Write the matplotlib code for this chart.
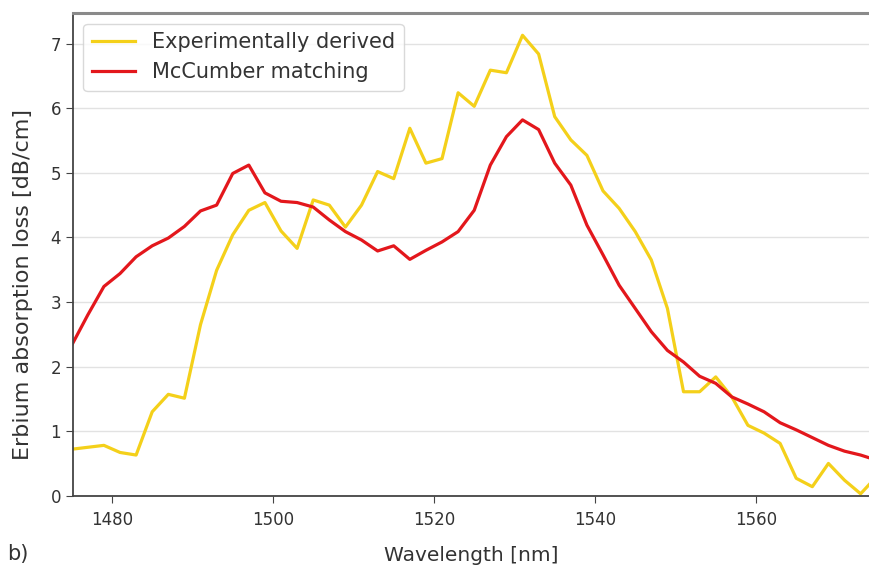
import matplotlib
matplotlib.use("Agg")
import matplotlib.pyplot as plt
import numpy as np

# wavelength grid (nm), sampled every 2 nm
wavelength = np.arange(1475, 1577, 2)

experimental = [0.72, 0.75, 0.78, 0.67, 0.63, 1.30, 1.57, 1.51, 2.65, 3.49,
                4.04, 4.42, 4.54, 4.10, 3.83, 4.58, 4.50, 4.16, 4.50, 5.02,
                4.91, 5.69, 5.15, 5.22, 6.24, 6.03, 6.59, 6.55, 7.13, 6.84,
                5.87, 5.51, 5.27, 4.72, 4.45, 4.09, 3.65, 2.90, 1.61, 1.61,
                1.84, 1.53, 1.09, 0.97, 0.81, 0.27, 0.14, 0.50, 0.24, 0.03,
                0.30]

mccumber = [2.33, 2.80, 3.24, 3.44, 3.70, 3.87, 3.99, 4.17, 4.41, 4.50,
            4.99, 5.12, 4.69, 4.56, 4.54, 4.47, 4.27, 4.09, 3.96, 3.79,
            3.87, 3.66, 3.80, 3.93, 4.09, 4.42, 5.12, 5.56, 5.82, 5.67,
            5.15, 4.81, 4.19, 3.73, 3.26, 2.90, 2.54, 2.25, 2.07, 1.85,
            1.74, 1.53, 1.42, 1.30, 1.13, 1.02, 0.90, 0.78, 0.69, 0.63,
            0.55]

labels = ["Experimentally derived", "McCumber matching"]
xticks = [1480, 1500, 1520, 1540, 1560]
yticks = [0, 1, 2, 3, 4, 5, 6, 7]

fig = plt.figure(figsize=(8.69, 5.67), dpi=100)
ax = fig.add_axes([0.084, 0.1257, 0.916, 0.8508])

ax.plot(wavelength, experimental, color="#f4d01a", lw=2.3, label=labels[0])
ax.plot(wavelength, mccumber, color="#e3171c", lw=2.3, label=labels[1])

ax.set_xlim(1475.16, 1574.04)
ax.set_ylim(0, 7.47)
ax.set_xticks(xticks)
ax.set_yticks(yticks)
ax.tick_params(labelsize=12, length=5, color="#444444", labelcolor="#333333")
ax.tick_params(axis="x", pad=6)

# horizontal grid only
ax.yaxis.grid(True, color="#e2e2e2", lw=1)
ax.set_axisbelow(True)

for side in ["left", "bottom"]:
    ax.spines[side].set_color("#444444")
    ax.spines[side].set_linewidth(1.3)
ax.spines["top"].set_color("#8a8a8a")
ax.spines["top"].set_linewidth(2.2)
ax.spines["right"].set_visible(False)

ax.set_xlabel("Wavelength [nm]", fontsize=14.5, color="#333333", labelpad=12)
ax.set_ylabel("Erbium absorption loss [dB/cm]", fontsize=16, color="#333333")
ax.yaxis.set_label_coords(-0.05, 0.437)

leg = ax.legend(loc="upper left", fontsize=15, frameon=True, fancybox=True,
                borderaxespad=0.5, handlelength=2.1)
leg.get_frame().set_edgecolor("#d0d0d0")
for t in leg.get_texts():
    t.set_color("#333333")

fig.text(0.008, 0.012, "b)", fontsize=15, color="#333333")

fig.savefig("out.png", dpi=100)
